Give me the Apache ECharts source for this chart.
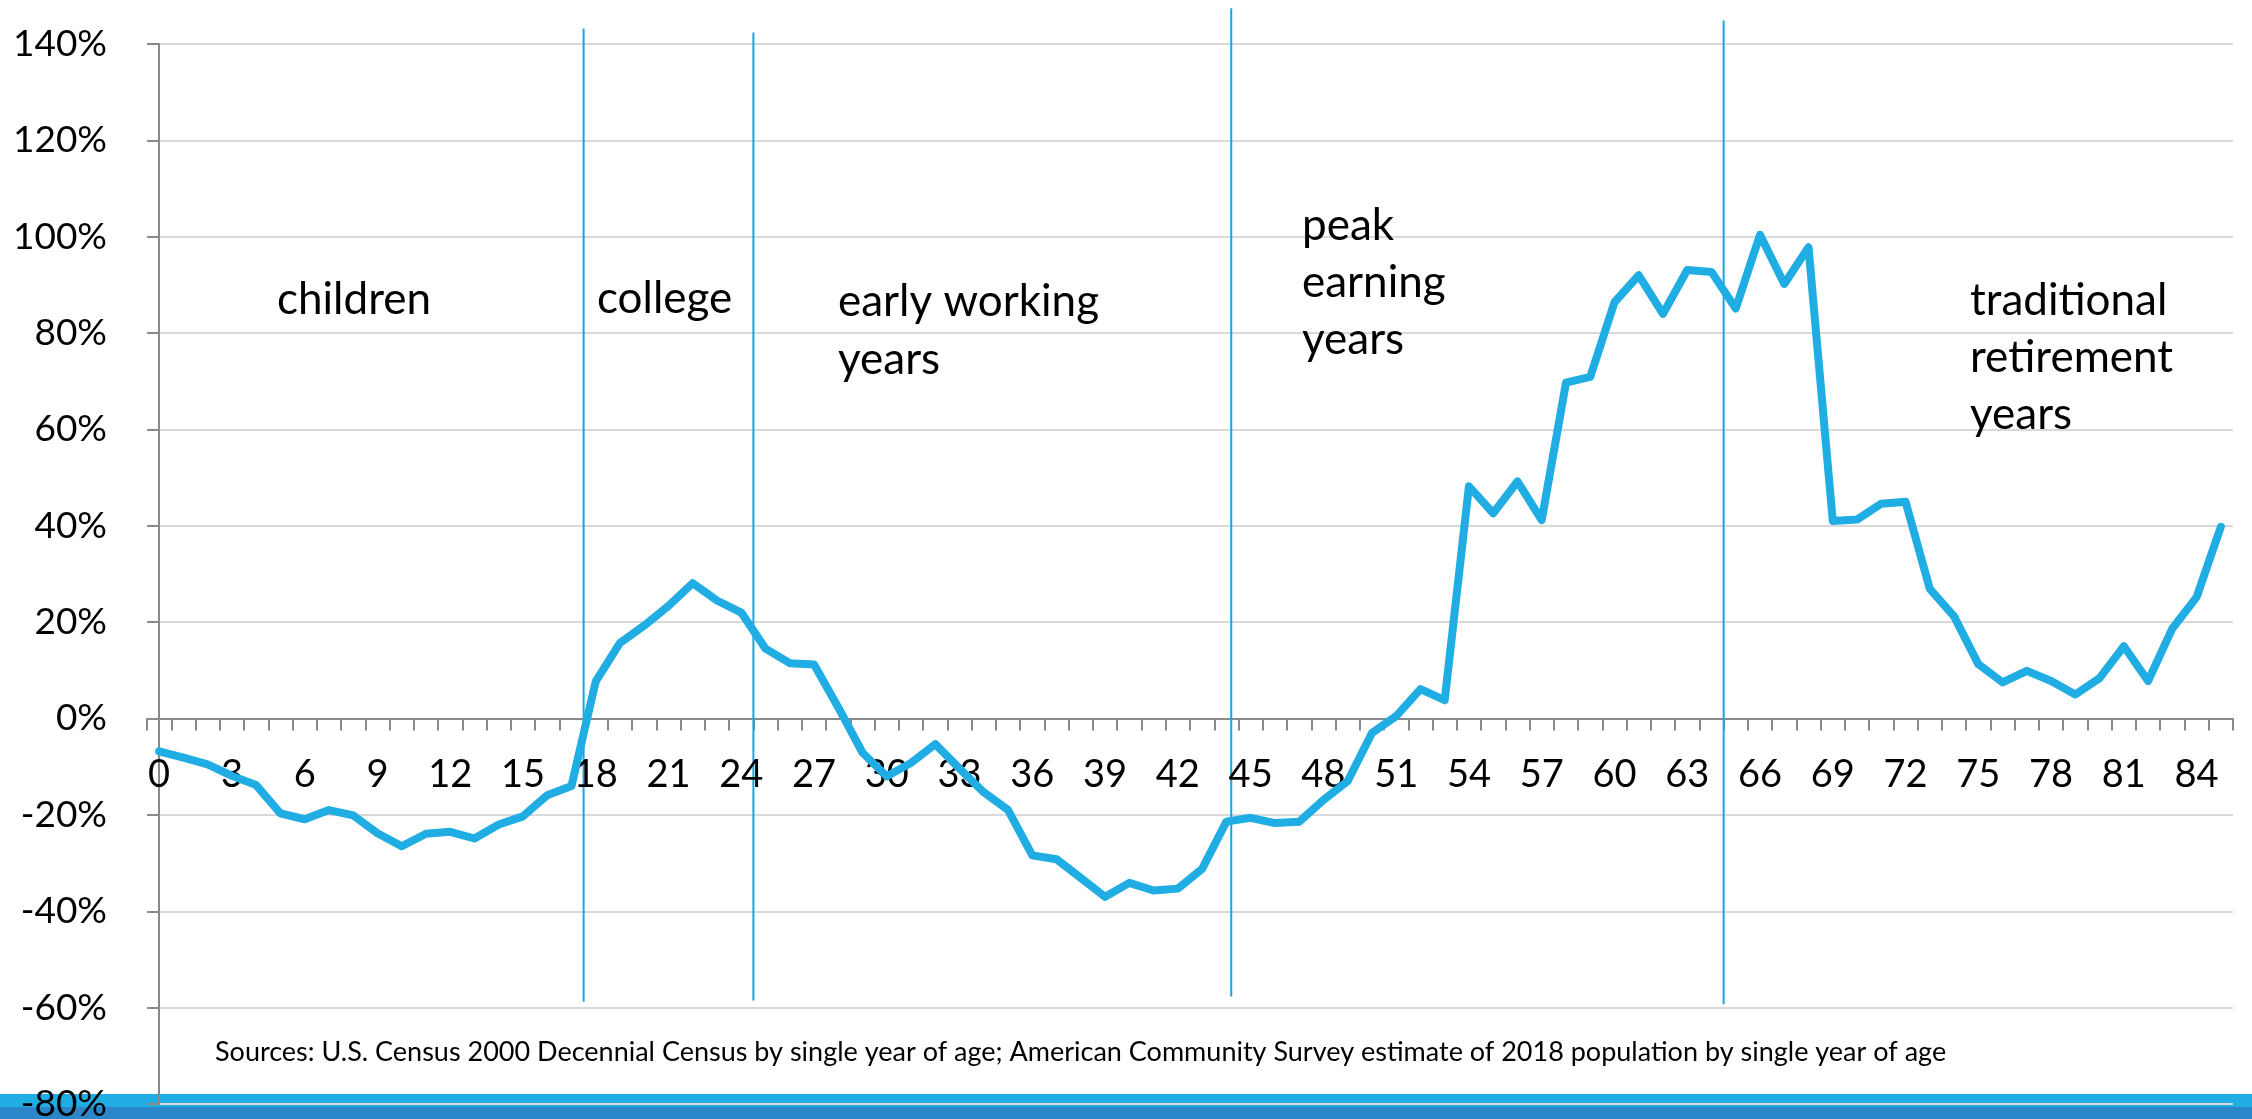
<!DOCTYPE html>
<html>
<head>
<meta charset="utf-8">
<script src="https://cdn.jsdelivr.net/npm/echarts@6/dist/echarts.min.js"></script>
<style>
  html, body { margin: 0; padding: 0; background: #fff; }
  #chart { width: 2252px; height: 1119px; }
</style>
</head>
<body>
<div id="chart"></div>
<script>
// ages 0..85 (categories)
const ages = [];
for (let i = 0; i <= 85; i++) ages.push(String(i));

// labelled ages under the zero line
const tickAges = ["0", "3", "6", "9", "12", "15", "18", "21", "24", "27", "30", "33", "36", "39", "42",
  "45", "48", "51", "54", "57", "60", "63", "66", "69", "72", "75", "78", "81", "84"];

// % change in population by single year of age
const change = [
  -6.8, -8.1, -9.5, -11.9, -13.8, -19.7, -20.9, -19.0, -20.1, -23.8,
  -26.5, -23.9, -23.5, -24.9, -22.0, -20.3, -15.9, -14.0, 7.7, 15.7,
  19.3, 23.4, 28.1, 24.5, 22.0, 14.5, 11.5, 11.2, 2.3, -7.1,
  -12.0, -9.2, -5.3, -10.4, -15.3, -19.0, -28.4, -29.2, -33.1, -37.0,
  -34.1, -35.7, -35.3, -31.2, -21.4, -20.6, -21.7, -21.4, -16.9, -13.0,
  -3.0, 0.5, 6.1, 3.8, 48.2, 42.6, 49.2, 41.2, 69.7, 70.9,
  86.4, 92.0, 84.0, 93.1, 92.7, 85.1, 100.4, 90.2, 97.8, 41.0,
  41.3, 44.6, 45.0, 26.9, 21.2, 11.3, 7.5, 9.9, 7.8, 5.0,
  8.4, 15.0, 7.8, 18.7, 25.2, 39.8
];

// life-stage dividers: [age position, top %, bottom %]
const dividers = [
  [17.5, 143.2, -58.8],
  [24.5, 142.4, -58.5],
  [44.2, 147.4, -57.7],
  [64.5, 144.9, -59.3]
];

const stageLabels = ["children", "college", "early working\nyears", "peak\nearning\nyears", "traditional\nretirement\nyears"];
const sourceNote = "Sources: U.S. Census 2000 Decennial Census by single year of age; American Community Survey estimate of 2018 population by single year of age";

const FONT = "Lato, 'Open Sans', sans-serif";
const AXIS_GRAY = "#898989";
const LINE_BLUE = "#1FADE4";

const chart = echarts.init(document.getElementById("chart"));

const stageText = (text, x, y, lh) => ({
  type: "text",
  x: x,
  y: y,
  z: 10,
  style: {
    text: text,
    fill: "#000",
    font: "44px " + FONT,
    lineHeight: lh,
    verticalAlign: "middle",
    align: "left"
  }
});

const option = {
  backgroundColor: "#fff",
  animation: false,
  grid: {
    left: 147,
    right: 19,
    top: 44,
    bottom: 15,
    containLabel: false,
    outerBoundsMode: "none"
  },
  xAxis: [
    {
      type: "category",
      position: "bottom",
      data: ages,
      boundaryGap: true,
      axisLine: { show: true, onZero: true, lineStyle: { color: AXIS_GRAY, width: 2 } },
      axisTick: { show: true, interval: 0, length: 12, lineStyle: { color: AXIS_GRAY, width: 2 } },
      // labels drawn by the "age labels" series so they sit under the zero line
      axisLabel: { show: false },
      splitLine: { show: false }
    },
    {
      type: "value",
      position: "top",
      min: -0.5,
      max: 85.5,
      show: false
    }
  ],
  yAxis: {
    type: "value",
    min: -80,
    max: 140,
    interval: 20,
    axisLine: { show: true, lineStyle: { color: AXIS_GRAY, width: 2 } },
    axisTick: { show: true, length: 12, lineStyle: { color: AXIS_GRAY, width: 2 } },
    axisLabel: {
      formatter: (v) => v + "%",
      fontSize: 37,
      margin: 40,
      color: "#000",
      fontFamily: FONT
    },
    splitLine: { show: true, lineStyle: { color: "#D9D9D9", width: 2 } }
  },
  series: [
    {
      type: "custom",
      xAxisIndex: 1,
      clip: false,
      z: 1,
      data: dividers,
      encode: { x: 0, y: [1, 2] },
      renderItem: function (params, api) {
        const top = api.coord([api.value(0), api.value(1)]);
        const bottom = api.coord([api.value(0), api.value(2)]);
        return {
          type: "line",
          shape: { x1: top[0], y1: top[1], x2: bottom[0], y2: bottom[1] },
          style: { stroke: "#1BA4E2", lineWidth: 2 }
        };
      }
    },
    {
      name: "age labels",
      type: "custom",
      xAxisIndex: 0,
      clip: false,
      silent: true,
      z: 2,
      data: tickAges.map((a) => [a, 0]),
      encode: { x: 0, y: 1 },
      renderItem: function (params, api) {
        const pt = api.coord([api.value(0), 0]);
        return {
          type: "text",
          x: pt[0],
          y: pt[1] + 56,
          style: {
            text: tickAges[params.dataIndex],
            fill: "#000",
            font: "38px " + FONT,
            align: "center",
            verticalAlign: "middle"
          }
        };
      }
    },
    {
      type: "line",
      data: change,
      z: 3,
      symbol: "none",
      lineStyle: { color: LINE_BLUE, width: 8, cap: "round", join: "round" }
    }
  ],
  graphic: [
    // bottom band
    { type: "rect", z: -10, shape: { x: 0, y: 1094, width: 2252, height: 13 }, style: { fill: "#1FADE3" } },
    { type: "rect", z: -10, shape: { x: 0, y: 1107, width: 2252, height: 12 }, style: { fill: "#2B87C9" } },
    stageText(stageLabels[0], 277, 300, 57),
    stageText(stageLabels[1], 597, 299, 57),
    stageText(stageLabels[2], 838, 331, 58),
    stageText(stageLabels[3], 1302, 283, 57),
    stageText(stageLabels[4], 1970, 358, 57),
    {
      type: "text",
      x: 215,
      y: 1052,
      z: 10,
      style: {
        text: sourceNote,
        fill: "#000",
        font: "27px " + FONT,
        verticalAlign: "middle",
        align: "left"
      }
    }
  ]
};

chart.setOption(option);
</script>
</body>
</html>
